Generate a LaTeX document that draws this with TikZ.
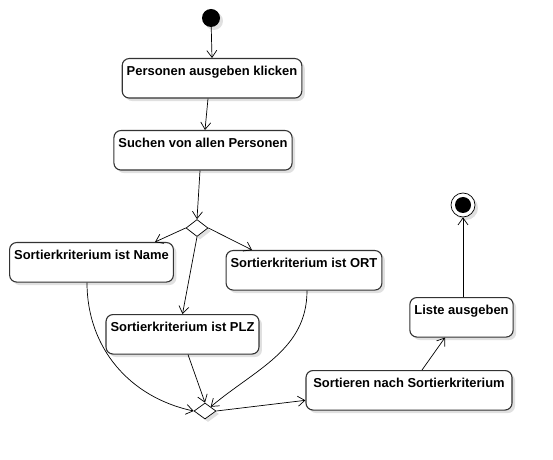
\documentclass[tikz,border=0pt]{standalone}
\usepackage{fontspec}
\setmainfont{Liberation Sans}
\usetikzlibrary{shapes.geometric,shadows,arrows.meta}

\begin{document}
\begin{tikzpicture}[x=1bp,y=-1bp]
    \tikzstyle{shade}=[drop shadow={shadow xshift=3bp,shadow yshift=-3bp,fill=black!12,opacity=1}]
    \tikzstyle{action}=[rectangle,rounded corners=7bp,draw=black!80,line width=1.1bp,fill=white,shade,
      inner xsep=4.5bp,inner ysep=0pt,text height=16.5bp,text depth=23bp,anchor=north,
      font=\fontsize{13}{15}\selectfont\bfseries]
    \tikzstyle{choice}=[diamond,draw,line width=0.7bp,fill=white,shade,inner sep=0pt,
      minimum width=22bp,minimum height=17bp]
    \tikzstyle{flow}=[line width=0.7bp,-{Straight Barb[length=7bp,width=10bp]}]
    \useasboundingbox (0,0) rectangle (553,460);
    % start and end
    \node[circle,fill=black,shade,minimum size=18bp,inner sep=0pt] (start) at (211,18) {};
    \node[circle,draw,line width=0.7bp,fill=white,shade,minimum size=24bp,inner sep=0pt] (end) at (463,205) {};
    \fill (end) circle (8bp);
    % actions
    \node[action] (klicken) at (212,58) {Personen ausgeben klicken};
    \node[action] (suchen) at (203,130) {Suchen von allen Personen};
    \node[choice] (d1) at (197,228) {};
    \node[action] (name) at (91.5,242) {Sortierkriterium ist Name};
    \node[action] (ort) at (304,250) {Sortierkriterium ist ORT};
    \node[action] (plz) at (182.5,314) {Sortierkriterium ist PLZ};
    \node[choice,minimum height=16bp] (d2) at (205,411) {};
    \node[action,minimum width=206bp] (sort) at (409,370) {Sortieren nach Sortierkriterium};
    \node[action] (liste) at (461.5,297) {Liste ausgeben};
    % flows
    \draw[flow] (start) -- (klicken.north);
    \draw[flow] ([xshift=-4bp]klicken.south) -- ([xshift=2bp]suchen.north);
    \draw[flow] ([xshift=-3bp]suchen.south) -- (d1.north);
    \draw[flow] (d1.west) -- ([xshift=63.5bp]name.north);
    \draw[flow] (d1.east) -- ([xshift=-52bp]ort.north);
    \draw[flow] (d1.south) -- (plz.north);
    \draw[flow] ([xshift=-4.5bp]name.south) to[out=-90,in=168] (d2.west);
    \draw[flow] ([xshift=5.5bp]plz.south) -- (d2.north);
    \draw[flow] ([xshift=3bp]ort.south) to[out=-90,in=40] (d2.north east);
    \draw[flow] (d2.east) -- ([yshift=-10bp]sort.west);
    \draw[flow] ([xshift=13bp]sort.north) -- ([xshift=-16.5bp]liste.south);
    \draw[flow] (liste.north -| end) -- (end);
\end{tikzpicture}
\end{document}
